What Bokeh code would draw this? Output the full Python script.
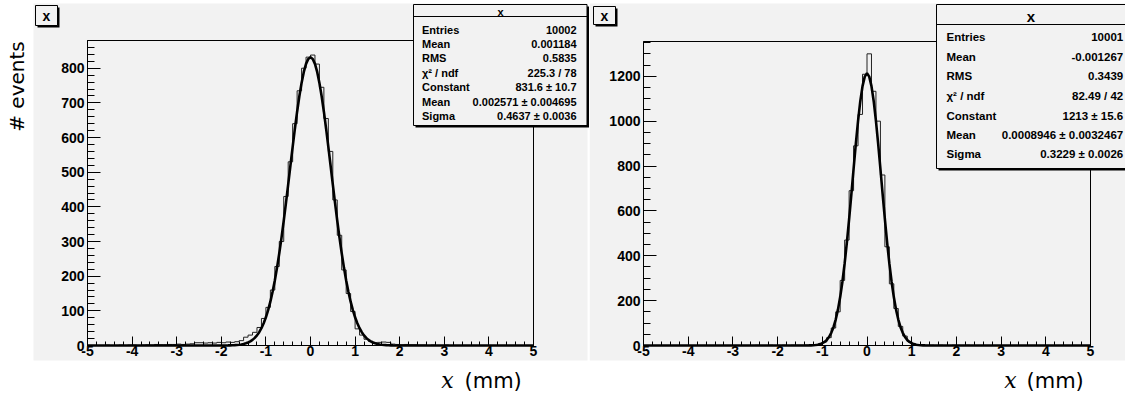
import math
from bokeh.plotting import figure
from bokeh.models import LinearAxis, SingleIntervalTicker, Range1d
from bokeh.layouts import row
from bokeh.embed import file_html
from bokeh.resources import INLINE
from bokeh.core.properties import value

# ---------------- data ----------------
bin_edges = [round(-5 + 0.1 * i, 1) for i in range(101)]

counts_left = [
    0, 0, 0, 0, 1, 0, 0, 1, 0, 1,
    1, 0, 1, 2, 1, 3, 2, 2, 3, 3,
    4, 3, 4, 5, 8, 8, 7, 8, 7, 9,
    8, 10, 9, 11, 14, 24, 30, 38, 52, 78,
    110, 160, 228, 300, 430, 530, 640, 735, 800, 832,
    838, 812, 745, 655, 560, 420, 318, 218, 150, 98,
    48, 30, 18, 12, 8, 9, 10, 9, 4, 3,
    2, 3, 2, 2, 1, 1, 0, 1, 0, 0,
    1, 0, 0, 0, 0, 0, 0, 0, 0, 0,
    0, 0, 0, 0, 0, 0, 0, 0, 0, 0,
]

counts_right = [
    0, 0, 0, 0, 0, 0, 0, 0, 0, 0,
    0, 0, 0, 0, 0, 0, 0, 0, 0, 0,
    0, 0, 0, 0, 0, 1, 0, 0, 1, 0,
    0, 1, 0, 1, 1, 1, 2, 2, 4, 6,
    16, 35, 78, 150, 290, 470, 690, 890, 1030, 1209,
    1300, 1133, 1000, 760, 440, 275, 165, 85, 42, 18,
    7, 3, 2, 1, 1, 0, 1, 0, 0, 1,
    0, 0, 1, 0, 0, 0, 0, 0, 0, 0,
    0, 0, 0, 0, 0, 0, 0, 0, 0, 0,
    0, 0, 0, 0, 0, 0, 0, 0, 0, 0,
]

fit_x_left = [-5.0] + [round(-2.0 + 0.05 * k, 2) for k in range(81)] + [5.0]
fit_y_left = [0.0,
    0.08, 0.12, 0.19, 0.29, 0.44, 0.67, 1.0, 1.5, 2.2, 3.1,
    4.4, 6.3, 8.7, 12.0, 16.3, 22.0, 29.2, 38.4, 49.9, 64.0,
    81.3, 101.9, 126.4, 155.0, 187.8, 224.8, 266.1, 311.3, 360.0, 411.6,
    465.0, 519.3, 573.3, 625.5, 674.6, 719.1, 757.7, 789.2, 812.5, 826.8,
    831.6,
    826.8, 812.5, 789.2, 757.7, 719.1, 674.6, 625.5, 573.3, 519.3, 465.0,
    411.6, 360.0, 311.3, 266.1, 224.8, 187.8, 155.0, 126.4, 101.9, 81.3,
    64.0, 49.9, 38.4, 29.2, 22.0, 16.3, 12.0, 8.7, 6.3, 4.4,
    3.1, 2.2, 1.5, 1.0, 0.67, 0.44, 0.29, 0.19, 0.12, 0.08,
    0.0]

fit_x_right = [-5.0] + [round(-1.5 + 0.05 * k, 2) for k in range(61)] + [5.0]
fit_y_right = [0.0,
    0.02, 0.04, 0.08, 0.17, 0.37, 0.7, 1.2, 2.1, 3.7, 6.1,
    10.0, 16.0, 24.9, 37.9, 56.4, 81.7, 115.7, 159.9, 215.8, 284.3,
    365.8, 459.3, 563.2, 674.1, 787.8, 898.9, 1001.3, 1088.9, 1156.2, 1198.5,
    1213.0,
    1198.5, 1156.2, 1088.9, 1001.3, 898.9, 787.8, 674.1, 563.2, 459.3, 365.8,
    284.3, 215.8, 159.9, 115.7, 81.7, 56.4, 37.9, 24.9, 16.0, 10.0,
    6.1, 3.7, 2.1, 1.2, 0.7, 0.37, 0.17, 0.08, 0.04, 0.02,
    0.0]

xtick_values = [-5, -4, -3, -2, -1, 0, 1, 2, 3, 4, 5]
xtick_labels = ["-5", "-4", "-3", "-2", "-1", "0", "1", "2", "3", "4", "5"]
ytick_values_left = [0, 100, 200, 300, 400, 500, 600, 700, 800]
ytick_labels_left = ["0", "100", "200", "300", "400", "500", "600", "700", "800"]
ytick_values_right = [0, 200, 400, 600, 800, 1000, 1200]
ytick_labels_right = ["0", "200", "400", "600", "800", "1000", "1200"]

stat_names = ["Entries", "Mean", "RMS", "\u03c7\u00b2 / ndf", "Constant", "Mean", "Sigma"]
stat_values_left = ["10002", "0.001184", "0.5835", "225.3 / 78", "831.6 \u00b1 10.7",
                    "0.002571 \u00b1 0.004695", "0.4637 \u00b1 0.0036"]
stat_values_right = ["10001", "-0.001267", "0.3439", "82.49 / 42", "1213 \u00b1 15.6",
                     "0.0008946 \u00b1 0.0032467", "0.3229 \u00b1 0.0026"]
hist_title = "x"
ylabel_text = "# events"
xlabel_var = "x"
xlabel_unit = "(mm)"

# ---------------- style ----------------
PAD = "#f2f2f2"
FONT = "Liberation Sans"
H = 394


def make_panel(width, px_lo, px_hi, py_base, py_top, ymax, counts, fx, fy,
               yticks, ylabels, yinterval, yminor, stat_values, geom, with_ylabel):
    sx = 10.0 / (px_hi - px_lo)
    sy = ymax / (py_base - py_top)

    def X(px):
        return -5 + (px - px_lo) * sx

    def Y(py):
        return (py_base - py) * sy

    p = figure(width=width, height=H,
               x_range=Range1d(X(0), X(width)), y_range=Range1d(Y(H), Y(0)),
               output_backend="svg", toolbar_location=None,
               x_axis_location=None, y_axis_location=None,
               min_border=0, outline_line_color=None,
               background_fill_color="white", border_fill_color="white")
    p.grid.visible = False

    # pad
    pl, pr, pt, pb = geom["pad"]
    p.quad(left=X(pl), right=X(pr), top=Y(pt), bottom=Y(pb), fill_color=PAD, line_color=None)

    # title box
    tl, tr, tt, tb = geom["title"]
    p.quad(left=X(tl + 2), right=X(tr + 2), top=Y(tt + 2), bottom=Y(tb + 2), fill_color="black", line_color=None)
    p.quad(left=X(tl), right=X(tr), top=Y(tt), bottom=Y(tb), fill_color=PAD, line_color="black", line_width=1)
    p.text(x=[X((tl + tr) / 2)], y=[Y((tt + tb) / 2)], text=[hist_title],
           text_font=value(FONT), text_font_style="bold", text_font_size="14px",
           text_align="center", text_baseline="middle", text_color="black")

    # plot frame
    p.quad(left=-5, right=5, bottom=0, top=ymax, fill_color=None, line_color="black", line_width=1)

    # histogram outline
    p.step(x=bin_edges, y=counts + [counts[-1]], mode="after", line_color="#222222", line_width=1)

    # fit
    p.line(x=fx, y=fy, line_color="black", line_width=2.6)

    # axes
    xa = LinearAxis(fixed_location=0, bounds=(-5, 5),
                    ticker=SingleIntervalTicker(interval=1, num_minor_ticks=5))
    xa.major_label_overrides = {v: l for v, l in zip(xtick_values, xtick_labels)}
    ya = LinearAxis(fixed_location=-5, bounds=(0, ymax),
                    ticker=SingleIntervalTicker(interval=yinterval, num_minor_ticks=yminor))
    ya.major_label_overrides = {v: l for v, l in zip(yticks, ylabels)}
    for ax in (xa, ya):
        ax.axis_line_color = "black"
        ax.major_tick_line_color = "black"
        ax.minor_tick_line_color = "black"
        ax.major_tick_out = 0
        ax.minor_tick_out = 0
        ax.major_label_text_font = FONT
        ax.major_label_text_font_style = "bold"
        ax.major_label_text_font_size = "14px"
        ax.major_label_text_color = "black"
    xa.major_tick_in = 9
    xa.minor_tick_in = 4
    xa.major_label_standoff = 0
    ya.major_tick_in = 13
    ya.minor_tick_in = 7
    ya.major_label_standoff = 3
    p.add_layout(xa, "below")
    p.add_layout(ya, "left")

    # stats box
    sl, sr, st, sb, sh = geom["stats"]
    p.quad(left=X(sl + 2), right=X(sr + 2), top=Y(st + 2), bottom=Y(sb + 2), fill_color="black", line_color=None)
    p.quad(left=X(sl), right=X(sr), top=Y(st), bottom=Y(sb), fill_color=PAD, line_color="black", line_width=1)
    p.segment(x0=[X(sl)], y0=[Y(sh)], x1=[X(sr)], y1=[Y(sh)], line_color="black", line_width=1)
    hx, hy, hsize = geom["stats_title"]
    p.text(x=[X(hx)], y=[Y(hy)], text=[hist_title], text_font=value(FONT), text_font_style="bold",
           text_font_size=hsize, text_align="center", text_baseline="middle", text_color="black")
    rows_y = geom["rows"]
    lx, rx, fsize = geom["cols"]
    p.text(x=[X(lx)] * len(stat_names), y=[Y(v) for v in rows_y], text=stat_names,
           text_font=value(FONT), text_font_style="bold", text_font_size=fsize,
           text_align="left", text_baseline="middle", text_color="black")
    p.text(x=[X(rx)] * len(stat_values), y=[Y(v) for v in rows_y], text=stat_values,
           text_font=value(FONT), text_font_style="bold", text_font_size=fsize,
           text_align="right", text_baseline="middle", text_color="black")

    # x label
    vx, ux, ly = geom["xlabel"]
    p.text(x=[X(vx)], y=[Y(ly)], text=[xlabel_var], text_font=value("DejaVu Serif"),
           text_font_style="italic", text_font_size="22px", text_align="center",
           text_baseline="middle", text_color="black")
    p.text(x=[X(ux)], y=[Y(ly)], text=[xlabel_unit], text_font=value("DejaVu Sans"),
           text_font_size="21px", text_align="left", text_baseline="middle", text_color="black")

    if with_ylabel:
        yx, yy = geom["ylabel"]
        p.text(x=[X(yx)], y=[Y(yy)], text=[ylabel_text], text_font=value("DejaVu Sans"),
               text_font_size="20px", text_align="center", text_baseline="middle",
               angle=math.pi / 2, text_color="black")
    return p


geom_left = dict(
    pad=(33, 587, 3, 360),
    title=(35, 57, 5, 25),
    stats=(413, 586.5, 4, 125, 16),
    stats_title=(500, 11, "11px"),
    rows=[29, 43.3, 57.7, 72, 86.7, 101, 115.7],
    cols=(421.5, 576, "11px"),
    xlabel=(447, 464, 380),
    ylabel=(16, 86),
)
geom_right = dict(
    pad=(0, 540, 3, 360),
    title=(4, 26, 6, 24),
    stats=(347, 545, 4, 168, 24),
    stats_title=(441.5, 16, "15px"),
    rows=[36, 56.7, 75.7, 95, 115, 134, 153.3],
    cols=(357, 533.7, "11.5px"),
    xlabel=(421, 437, 380),
)

p_left = make_panel(589, 87, 533, 345, 40, 880, counts_left, fit_x_left, fit_y_left,
                    ytick_values_left, ytick_labels_left, 100, 5, stat_values_left, geom_left, True)
p_right = make_panel(536, 54, 501, 345, 41, 1355, counts_right, fit_x_right, fit_y_right,
                     ytick_values_right, ytick_labels_right, 200, 4, stat_values_right, geom_right, False)

layout = row(p_left, p_right, spacing=0)
open("out.html", "w").write(file_html(layout, INLINE))
